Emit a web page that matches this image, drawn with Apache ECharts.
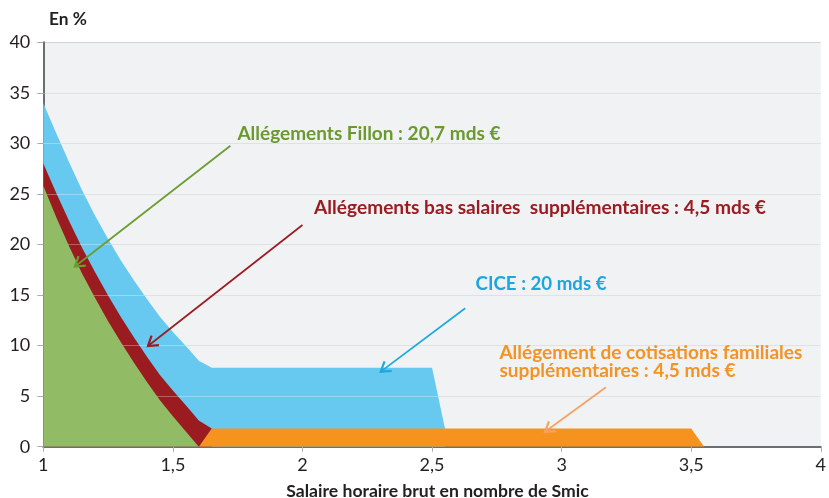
<!DOCTYPE html>
<html><head><meta charset="utf-8">
<script src="https://cdn.jsdelivr.net/npm/echarts@6.0.0/dist/echarts.min.js"></script>
<style>html,body{margin:0;padding:0;background:#fff}#c{width:829px;height:498px}</style>
</head><body><div id="c"></div>
<script>
// ---- data ----
const xs          = [1, 1.05, 1.1, 1.15, 1.2, 1.25, 1.3, 1.35, 1.4, 1.45, 1.5, 1.55, 1.6, 1.65, 2.5, 2.55, 3.5, 3.55];
const fillon      = [25.8, 22.7, 19.8, 17.1, 14.7, 12.4, 10.3, 8.3, 6.4, 4.6, 3.0, 1.5, 0, null, null, null, null, null];
const familiales  = [null, null, null, null, null, null, null, null, null, null, null, null, 0, 1.8, 1.8, 1.8, 1.8, 0];
const basSalaires = [2.2, 2.4, 2.5, 2.55, 2.55, 2.55, 2.5, 2.5, 2.5, 2.5, 2.55, 2.6, 2.6, 0, null, null, null, null];
const cice        = [6.0, 5.9, 5.8, 5.7, 5.6, 5.6, 5.6, 5.65, 5.7, 5.75, 5.8, 5.85, 5.9, 6.0, 6.0, 0, null, null];
const xTicks      = [1, 1.5, 2, 2.5, 3, 3.5, 4];
const xTickLabels = ['1', '1,5', '2', '2,5', '3', '3,5', '4'];
const yTicks      = [0, 5, 10, 15, 20, 25, 30, 35, 40];

const annTexts  = ['Allégements Fillon : 20,7 mds €',
                   'Allégements bas salaires  supplémentaires : 4,5 mds €',
                   'CICE : 20 mds €',
                   'Allégement de cotisations familiales',
                   'supplémentaires : 4,5 mds €'];
const annAnchor = [[1.749, 30.93], [2.045, 23.61], [2.668, 16.09], [2.760, 9.24], [2.760, 7.52]];
const annWidth  = [263, 453, 131, 303, 236];
const annColor  = ['#6a9a2e', '#9b1b21', '#1aa6e0', '#f39325', '#f39325'];
const arrowFrom = [[1.722, 29.77], [2.0, 21.93], [2.628, 13.69], [3.171, 5.88]];
const arrowTo   = [[1.122, 17.82], [1.404, 9.96], [2.302, 7.42], [2.936, 1.48]];
const arrowCol  = ['#6b9c30', '#9b1c22', '#1ba9e1', '#f5a365'];

const FONT = 'Lato, "Open Sans", sans-serif';
const mctx = document.createElement('canvas').getContext('2d');
function fit(text, weight, target) {
  mctx.font = weight + ' 100px ' + FONT;
  const w = mctx.measureText(text).width;
  return Math.round(1000 * target / w) / 10;
}

// cumulative tops (stack order: Fillon, familiales, bas salaires, CICE)
const layers = [fillon, familiales, basSalaires, cice];
const tops = layers.map(() => []);
xs.forEach((x, i) => {
  let cum = 0;
  layers.forEach((arr, k) => {
    if (arr[i] == null) { tops[k].push(null); }
    else { cum += arr[i]; tops[k].push(+cum.toFixed(4)); }
  });
});

function area(name, vals, color, z) {
  return {
    name, type: 'line', z,
    data: xs.map((x, i) => [x, vals[i]]),
    showSymbol: false, symbol: 'none', connectNulls: false,
    lineStyle: { width: 0, opacity: 0 },
    areaStyle: { color, opacity: 1, origin: 'start' },
    emphasis: { disabled: true }, silent: true
  };
}

const chart = echarts.init(document.getElementById('c'), null, { renderer: 'canvas' });
chart.setOption({
  animation: false,
  backgroundColor: '#ffffff',
  grid: { left: 43.3, right: 6, top: 42.3, bottom: 51.3, show: true, backgroundColor: '#f1f2f4', borderWidth: 0 },
  xAxis: {
    type: 'value', min: 1, max: 4, interval: 0.5,
    axisLine: { show: true, lineStyle: { color: '#6d6e71', width: 2 } },
    axisTick: { show: true, length: 5, lineStyle: { color: '#a9aaad', width: 1 } },
    splitLine: { show: false },
    axisLabel: { margin: 9, fontFamily: FONT, fontSize: 18, color: '#231f20',
      formatter: v => { const i = xTicks.indexOf(v); return i >= 0 ? xTickLabels[i] : ''; } }
  },
  yAxis: {
    type: 'value', min: 0, max: 40, interval: 5,
    axisLine: { show: true, lineStyle: { color: '#6d6e71', width: 2 } },
    axisTick: { show: true, length: 6, lineStyle: { color: '#a9aaad', width: 1 } },
    splitLine: { show: true, lineStyle: { color: '#d3d4d7', width: 1 } },
    axisLabel: { margin: 13, fontFamily: FONT, fontSize: 18, color: '#231f20',
      formatter: v => yTicks.indexOf(v) >= 0 ? String(v) : '' }
  },
  series: [
    area('CICE', tops[3], '#67c9f0', 2),
    { type: 'line', data: [], z: 3, silent: true,
      markLine: { silent: true, symbol: 'none', label: { show: false }, animation: false,
        lineStyle: { color: 'rgba(255,255,255,0.3)', width: 1, type: 'solid' },
        data: yTicks.slice(1, -1).map(v => ({ yAxis: v })) } },
    area('Allégements bas salaires', tops[2], '#9a1b20', 4),
    area('Allégement de cotisations familiales', tops[1], '#f6921e', 5),
    area('Allégements Fillon', tops[0], '#91bb64', 6)
  ]
});

const g = [];
g.push({ type: 'text', x: 49, y: 19, z: 10, silent: true,
  style: { text: 'En %', fontFamily: FONT, fontWeight: 'bold', fontSize: fit('En %', 'bold', 38), fill: '#231f20', verticalAlign: 'middle', align: 'left' } });
const xt = 'Salaire horaire brut en nombre de Smic';
g.push({ type: 'text', x: 437.5, y: 491.5, z: 10, silent: true,
  style: { text: xt, fontFamily: FONT, fontWeight: 'bold', fontSize: fit(xt, 'bold', 302), fill: '#231f20', verticalAlign: 'middle', align: 'center' } });
annTexts.forEach((t, i) => {
  const p = chart.convertToPixel({ gridIndex: 0 }, annAnchor[i]);
  g.push({ type: 'text', x: p[0], y: p[1], z: 10, silent: true,
    style: { text: t, fontFamily: FONT, fontWeight: 'bold', fontSize: fit(t, 'bold', annWidth[i]), fill: annColor[i], verticalAlign: 'middle', align: 'left' } });
});
arrowFrom.forEach((f, i) => {
  const a = chart.convertToPixel({ gridIndex: 0 }, f);
  const b = chart.convertToPixel({ gridIndex: 0 }, arrowTo[i]);
  const dx = b[0] - a[0], dy = b[1] - a[1], len = Math.hypot(dx, dy);
  const ux = dx / len, uy = dy / len, L = 11, th = 33 * Math.PI / 180;
  const leg = s => [b[0] - L * (ux * Math.cos(th) - s * uy * Math.sin(th)), b[1] - L * (uy * Math.cos(th) + s * ux * Math.sin(th))];
  g.push({ type: 'polyline', z: 9, silent: true, shape: { points: [a, b] }, style: { stroke: arrowCol[i], lineWidth: 1.7, fill: null } });
  g.push({ type: 'polyline', z: 9, silent: true, shape: { points: [leg(1), b, leg(-1)] }, style: { stroke: arrowCol[i], lineWidth: 2.2, fill: null, lineJoin: 'miter' } });
});
chart.setOption({ graphic: g });
</script>
</body></html>
